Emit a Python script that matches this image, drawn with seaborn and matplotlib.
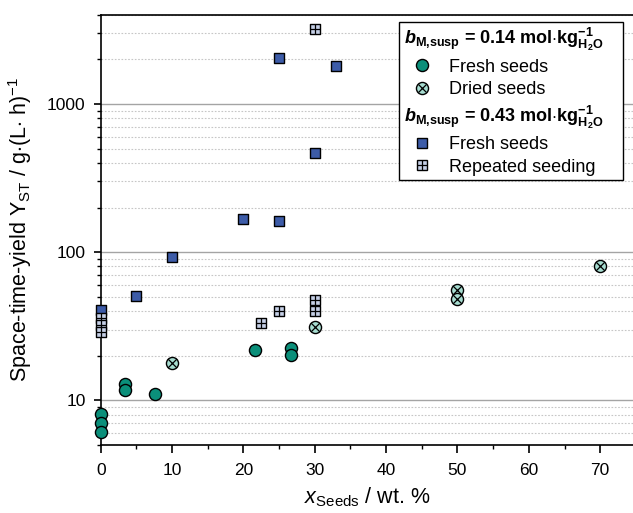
import matplotlib
matplotlib.use("Agg")
import matplotlib.pyplot as plt
from matplotlib.lines import Line2D
from matplotlib.ticker import LogLocator, NullFormatter, MultipleLocator
import pandas as pd
import seaborn as sns

# Seed loading x_Seeds (wt. %) and space-time-yield Y_ST (g/(L h))
# b_M,susp = 0.14 mol/kg H2O
fresh_014_x = [0, 0, 0, 3.4, 3.4, 7.6, 21.6, 26.7, 26.7]
fresh_014_y = [8.1, 7.0, 6.1, 12.8, 11.7, 11.1, 21.7, 22.5, 20.1]
dried_014_x = [10, 30, 50, 50, 70]
dried_014_y = [18.0, 31.3, 55.2, 48.0, 80.5]
# b_M,susp = 0.43 mol/kg H2O
fresh_043_x = [0, 5, 10, 20, 25, 30, 25, 33]
fresh_043_y = [40.9, 50.3, 92.7, 168, 161, 466, 2040, 1795]
repeat_043_x = [0, 0, 0, 22.5, 25, 30, 30, 30]
repeat_043_y = [36.0, 32.0, 29.0, 33.3, 40.1, 47.8, 40.0, 3185]

x_ticks = [0, 10, 20, 30, 40, 50, 60, 70]
y_ticks = [10, 100, 1000]
y_tick_labels = ["10", "100", "1000"]

sns.set_style("ticks")
plt.rcParams.update({
    "font.family": ["Liberation Sans", "DejaVu Sans"],
    "mathtext.fontset": "custom",
    "mathtext.rm": "Liberation Sans",
    "mathtext.it": "Liberation Sans:italic",
    "mathtext.bf": "Liberation Sans:bold",
    "mathtext.bfit": "Liberation Sans:italic:bold",
    "mathtext.sf": "Liberation Sans",
    "text.color": "black",
    "axes.labelcolor": "black",
    "xtick.color": "black",
    "ytick.color": "black",
})

C_FRESH_014 = "#0b8f7a"
C_DRIED_014 = "#a6dcd0"
C_FRESH_043 = "#3d5ca8"
C_REPEAT_043 = "#c5cfe6"
S_CIRCLE = 76
S_SQUARE = 60

fig = plt.figure(figsize=(6.33, 5.13), dpi=100)
ax = fig.add_axes([0.1591, 0.1326, 0.8409, 0.8388])

df_f14 = pd.DataFrame({"x": fresh_014_x, "y": fresh_014_y})
df_d14 = pd.DataFrame({"x": dried_014_x, "y": dried_014_y})
df_f43 = pd.DataFrame({"x": fresh_043_x, "y": fresh_043_y})
df_r43 = pd.DataFrame({"x": repeat_043_x, "y": repeat_043_y})

common = dict(edgecolor="black", linewidth=1.0, clip_on=False, legend=False)
sns.scatterplot(data=df_f14, x="x", y="y", marker="o", s=S_CIRCLE,
                color=C_FRESH_014, zorder=3, ax=ax, **common)
sns.scatterplot(data=df_d14, x="x", y="y", marker="o", s=S_CIRCLE,
                color=C_DRIED_014, zorder=3, ax=ax, **common)
ax.scatter(df_d14["x"], df_d14["y"], marker="x", s=S_CIRCLE * 0.5,
           color="black", linewidths=0.9, zorder=3.1, clip_on=False)
sns.scatterplot(data=df_f43, x="x", y="y", marker="s", s=S_SQUARE,
                color=C_FRESH_043, zorder=4, ax=ax, **common)
# repeated seeding: light square with a cross dividing it into four cells
for xi, yi in zip(df_r43["x"], df_r43["y"]):
    sns.scatterplot(x=[xi], y=[yi], marker="s", s=S_SQUARE,
                    color=C_REPEAT_043, zorder=5, ax=ax, **common)
    ax.scatter([xi], [yi], marker="+", s=S_SQUARE, color="black",
               linewidths=0.9, zorder=5, clip_on=False)

ax.set_yscale("log")
ax.set_ylim(5, 4000)
ax.set_xlim(0, 74.6)

ax.set_xticks(x_ticks)
ax.xaxis.set_minor_locator(MultipleLocator(5))
ax.set_yticks(y_ticks, labels=y_tick_labels)
ax.yaxis.set_minor_locator(LogLocator(base=10, subs=range(2, 10)))
ax.yaxis.set_minor_formatter(NullFormatter())

ax.tick_params(which="major", direction="out", width=1.2,
               labelsize=12.5, color="black", labelcolor="black")
ax.tick_params(which="minor", direction="out", length=3, width=1.0,
               color="black")
ax.tick_params(axis="x", which="major", length=6, pad=7)
ax.tick_params(axis="y", which="major", length=5, pad=5.9)
ax.tick_params(top=False, right=False, which="both")

ax.set_axisbelow(True)
ax.yaxis.grid(True, which="major", color="#a4a4a4", linewidth=1.0,
              linestyle="-")
ax.yaxis.grid(True, which="minor", color="#c6c6c6", linewidth=0.8,
              linestyle=(0, (1.5, 1.5)))
ax.xaxis.grid(False)

for side in ("left", "bottom", "top"):
    ax.spines[side].set_color("black")
    ax.spines[side].set_linewidth(1.2)
ax.spines["right"].set_visible(False)

ax.set_xlabel(r"$x_{\mathrm{Seeds}}$ / wt. %", fontsize=15.5)
ax.set_ylabel(r"Space-time-yield Y$_{\mathrm{ST}}$ / g$\cdot$(L$\cdot$ h)$^{-1}$",
              fontsize=15.5)
ax.xaxis.set_label_coords(0.5, -0.093)
ax.yaxis.set_label_coords(-0.125, 0.5)

# legend with two bold group headers
blank = Line2D([], [], linestyle="none")
h_f14 = Line2D([], [], linestyle="none", marker="o", markersize=8.7,
               markerfacecolor=C_FRESH_014, markeredgecolor="black",
               markeredgewidth=1.0)
h_d14 = Line2D([], [], linestyle="none", marker="o", markersize=8.7,
               markerfacecolor=C_DRIED_014, markeredgecolor="black",
               markeredgewidth=1.0)
h_d14x = Line2D([], [], linestyle="none", marker="x", markersize=6.0,
                color="black", markeredgewidth=0.9)
h_f43 = Line2D([], [], linestyle="none", marker="s", markersize=7.7,
               markerfacecolor=C_FRESH_043, markeredgecolor="black",
               markeredgewidth=1.0)
h_r43 = Line2D([], [], linestyle="none", marker="s", markersize=7.7,
               markerfacecolor=C_REPEAT_043, markeredgecolor="black",
               markeredgewidth=1.0)
h_r43p = Line2D([], [], linestyle="none", marker="+", markersize=7.7,
                color="black", markeredgewidth=0.9)

header_014 = (r"$\mathbfit{b}_{\mathbf{M{,}susp}}$ = 0.14 mol$\cdot$"
              r"$\mathbf{kg}^{\mathbf{-1}}_{\mathbf{H_2O}}$")
header_043 = (r"$\mathbfit{b}_{\mathbf{M{,}susp}}$ = 0.43 mol$\cdot$"
              r"$\mathbf{kg}^{\mathbf{-1}}_{\mathbf{H_2O}}$")

handles = [blank, h_f14, (h_d14, h_d14x), blank, h_f43, (h_r43, h_r43p)]
labels = [header_014, "Fresh seeds", "Dried seeds",
          header_043, "Fresh seeds", "Repeated seeding"]
leg = ax.legend(handles, labels, loc="upper left",
                bbox_to_anchor=(0.5604, 0.0, 0.4208, 0.9837), mode="expand",
                borderaxespad=0,
                prop={"family": "Liberation Sans", "size": 13},
                frameon=True, fancybox=False, framealpha=1,
                edgecolor="black", borderpad=0.25, labelspacing=0.3,
                handlelength=2.0, handletextpad=0.53)
leg.get_frame().set_linewidth(1.0)
leg.set_zorder(10)
for i in (0, 3):
    leg.get_texts()[i].set_fontweight("bold")
for t in leg.get_texts():
    t.set_color("black")

# headers start at the left edge of the legend, without a handle slot
rows = leg._legend_handle_box.get_children()[0].get_children()
for i in (0, 3):
    hbox, tbox = rows[i].get_children()
    hbox.width = 0
    rows[i].sep = 0

fig.savefig("out.png", dpi=100)
